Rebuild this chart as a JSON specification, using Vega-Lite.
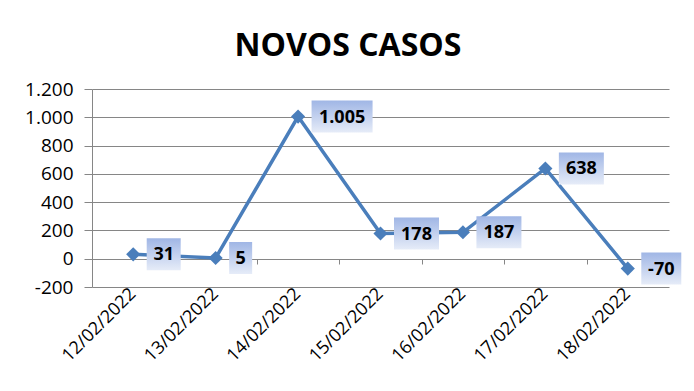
{
  "$schema": "https://vega.github.io/schema/vega-lite/v6.json",
  "autosize": "none",
  "width": 577,
  "height": 198,
  "padding": {"left": 92, "top": 89, "right": 25, "bottom": 104},
  "background": "white",
  "config": {
    "locale": {"number": {"decimal": ",", "thousands": ".", "grouping": [3], "currency": ["", ""], "minus": "-"}},
    "view": {"stroke": null},
    "font": "Open Sans"
  },
  "title": {
    "text": "NOVOS CASOS",
    "font": "Open Sans",
    "fontSize": 32,
    "fontWeight": "bold",
    "color": "black",
    "anchor": "middle",
    "frame": "bounds",
    "offset": 17,
    "dx": -5
  },
  "data": {
    "values": [
      {"data": "12/02/2022", "casos": 31},
      {"data": "13/02/2022", "casos": 5},
      {"data": "14/02/2022", "casos": 1005},
      {"data": "15/02/2022", "casos": 178},
      {"data": "16/02/2022", "casos": 187},
      {"data": "17/02/2022", "casos": 638},
      {"data": "18/02/2022", "casos": -70}
    ]
  },
  "resolve": {"axis": {"x": "independent"}},
  "encoding": {
    "x": {
      "field": "data",
      "type": "nominal",
      "sort": null,
      "scale": {"type": "band", "paddingInner": 0, "paddingOuter": 0}
    },
    "y": {
      "field": "casos",
      "type": "quantitative",
      "title": null,
      "scale": {"domain": [-200, 1200], "nice": false, "zero": false},
      "axis": {
        "values": [-200, 0, 200, 400, 600, 800, 1000, 1200],
        "format": ",d",
        "labelOverlap": false,
        "grid": true,
        "gridColor": "#868686",
        "gridOpacity": 1,
        "domainColor": "#868686",
        "tickColor": "#868686",
        "tickSize": 8,
        "labelFontSize": 19,
        "labelColor": "black",
        "labelPadding": 11,
        "labelFont": "Open Sans"
      }
    }
  },
  "layer": [
    {
      "mark": {"type": "line", "color": "#4a7ebb", "strokeWidth": 3.5},
      "encoding": {
        "x": {
          "field": "data",
          "type": "nominal",
          "sort": null,
          "title": null,
          "axis": {
            "orient": "bottom",
            "domain": false,
            "ticks": false,
            "labelAngle": -45,
            "labelAlign": "right",
            "labelBaseline": "middle",
            "labelFontSize": 18,
            "labelColor": "black",
            "labelPadding": 4,
            "labelFont": "Open Sans"
          }
        }
      }
    },
    {
      "mark": {"type": "point", "shape": "diamond", "filled": true, "color": "#4a7ebb", "size": 200, "opacity": 1},
      "encoding": {
        "x": {
          "field": "data",
          "type": "nominal",
          "sort": null,
          "title": null,
          "axis": {
            "orient": "bottom",
            "offset": -28,
            "labels": false,
            "domain": true,
            "domainColor": "#868686",
            "ticks": true,
            "tickBand": "extent",
            "tickColor": "#868686",
            "tickSize": 5
          }
        }
      }
    },
    {
      "mark": {
        "type": "rect",
        "xOffset": 13.5,
        "x2Offset": {"expr": "13.5 + 12 + 11*length(toString(abs(datum.casos))) + (abs(datum.casos) >= 1000 ? 5 : 0) + (datum.casos < 0 ? 6 : 0)"},
        "yOffset": -16,
        "y2Offset": 16,
        "color": {
          "gradient": "linear",
          "x1": 0, "y1": 0, "x2": 0, "y2": 1,
          "stops": [
            {"offset": 0, "color": "#a0b6e5"},
            {"offset": 1, "color": "#e6ecf8"}
          ]
        }
      },
      "encoding": {
        "x": {"field": "data", "type": "nominal", "sort": null, "bandPosition": 0.5, "axis": null},
        "x2": {"field": "data", "bandPosition": 0.5},
        "y2": {"field": "casos"}
      }
    },
    {
      "mark": {
        "type": "text",
        "font": "Open Sans",
        "fontSize": 18,
        "fontWeight": "bold",
        "color": "black",
        "align": "center",
        "baseline": "middle",
        "dy": 1,
        "dx": {"expr": "13.5 + (12 + 11*length(toString(abs(datum.casos))) + (abs(datum.casos) >= 1000 ? 5 : 0) + (datum.casos < 0 ? 6 : 0))/2"}
      },
      "encoding": {
        "x": {"field": "data", "type": "nominal", "sort": null, "bandPosition": 0.5, "axis": null},
        "text": {"field": "casos", "type": "quantitative", "format": ",d"}
      }
    }
  ]
}
